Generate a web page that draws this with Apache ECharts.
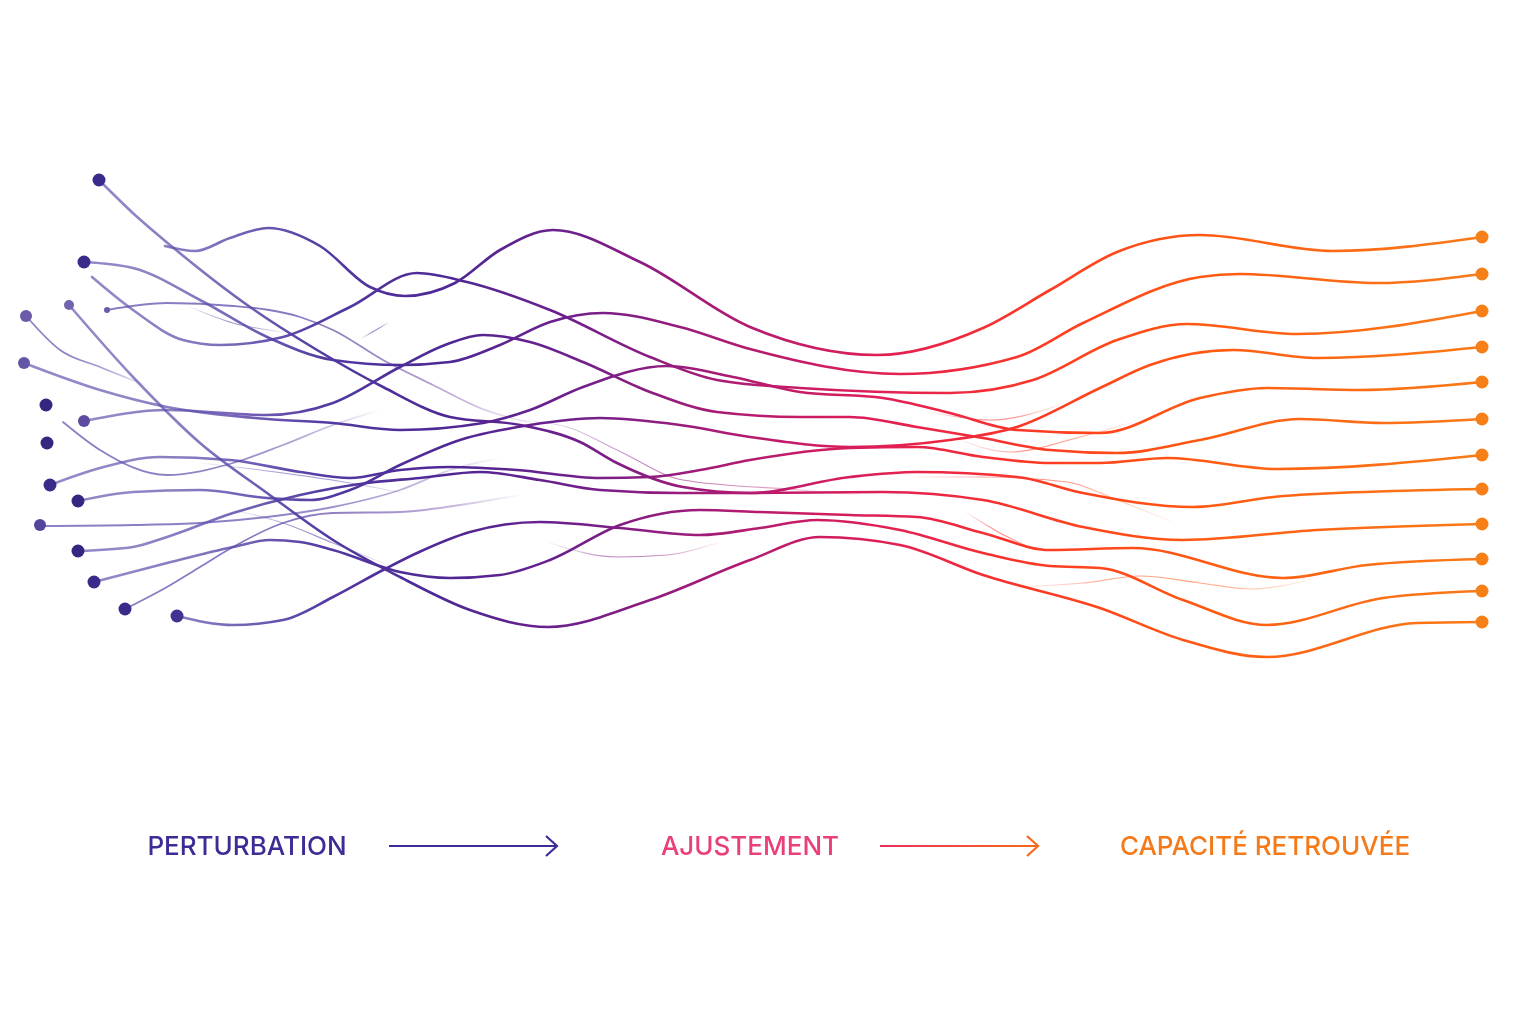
<!DOCTYPE html>
<html>
<head>
<meta charset="utf-8">
<script src="https://cdn.jsdelivr.net/npm/echarts@6/dist/echarts.min.js"></script>
<style>html,body{margin:0;padding:0;background:#fff}#c{width:1536px;height:1024px}</style>
</head>
<body>
<div id="c"></div>
<script>
// ---- data (x = progression, y = état) ----
const stageLabels = ['PERTURBATION', 'AJUSTEMENT', 'CAPACITÉ RETROUVÉE'];

const pathE1 = [[165,246],[195,251],[230,238],[268,228],[320,246],[370,287],[405,296],[455,283],[500,250],[553,230],[640,262],[750,327],[877,355],[983,328],[1050,290],[1117,252],[1200,235],[1333,251],[1482,237]];
const pathE2 = [[84,262],[133,268],[200,300],[267,337],[333,360],[400,365],[450,362],[500,345],[550,322],[603,313],[680,327],[750,349],[900,374],[1017,357],[1083,323],[1200,277],[1240,274],[1377,283],[1482,274]];
const pathE3 = [[92,277],[133,310],[183,340],[220,345],[283,337],[350,307],[417,273],[467,282],[550,310],[650,357],[717,380],[800,388],[950,393],[1033,380],[1117,340],[1187,324],[1297,334],[1482,311]];
const pathE4 = [[78,501],[133,492],[200,490],[267,498],[310,500],[350,490],[400,465],[460,440],[530,425],[600,418],[680,425],[750,437],[850,447],[950,440],[1017,427],[1100,388],[1150,365],[1233,350],[1317,358],[1482,347]];
const pathE5 = [[24,363],[100,390],[167,407],[267,419],[333,423],[400,430],[483,423],[530,410],[583,387],[667,366],[733,377],[800,392],[883,398],[950,413],[1017,430],[1100,433],[1200,398],[1267,388],[1360,390],[1482,382]];
const pathE6 = [[84,421],[167,410],[267,415],[333,403],[400,367],[445,345],[483,335],[530,342],[583,362],[650,392],[717,412],[800,417],[850,417],[917,427],[983,438],[1050,450],[1117,453],[1200,440],[1300,419],[1383,423],[1482,419]];
const pathE7 = [[50,485],[100,468],[160,457],[230,460],[300,472],[350,478],[400,470],[450,467],[517,470],[600,478],[650,477],[700,470],[750,460],[850,448],[917,447],[983,457],[1050,463],[1100,463],[1167,458],[1277,469],[1482,455]];
const pathE8 = [[99,180],[135,215],[170,245],[250,307],[317,350],[383,387],[450,417],[520,425],[580,442],[617,463],[683,487],[750,493],[850,477],[917,472],[1017,477],[1083,493],[1193,507],[1283,496],[1482,489]];
const pathE9 = [[78,551],[133,547],[167,537],[233,513],[300,495],[367,483],[420,478],[480,472],[540,480],[600,490],[680,493],[750,493],[883,492],[983,500],[1083,527],[1183,540],[1317,530],[1482,524]];
const pathE10 = [[94,582],[167,563],[233,547],[270,540],[300,542],[333,550],[400,572],[450,578],[500,575],[550,560],[620,525],[700,510],[760,512],[850,515],[917,517],[983,533],[1050,550],[1133,548],[1283,578],[1367,565],[1482,559]];
const pathE11 = [[177,616],[233,625],[283,620],[333,597],[383,570],[417,553],[470,532],[540,522],[620,528],[700,535],[760,528],[817,520],[900,530],[983,553],[1050,566],[1100,568],[1183,600],[1267,625],[1383,598],[1482,591]];
const pathE12 = [[69,305],[133,377],[200,443],[267,493],[333,540],[400,577],[470,610],[548,627],[650,600],[750,560],[820,537],[900,545],[983,575],[1100,608],[1183,640],[1267,657],[1417,623],[1482,622]];

const sidePaths = [
  [[26,316],[60,350],[100,367],[145,385]],
  [[107,310],[167,303],[233,306],[300,317],[333,330],[383,360],[433,385],[480,408],[540,425]],
  [[125,609],[167,587],[200,567],[233,547],[283,523],[333,513],[400,512],[460,505],[520,495]],
  [[40,526],[133,525],[200,523],[267,517],[333,507],[400,490],[450,470],[500,458]],
  [[63,422],[100,450],[167,475],[233,463],[283,445],[333,425],[380,410]]
];

const thinPaths = [
  [[190,307],[233,323],[283,332]],
  [[362,338],[388,323]],
  [[200,463],[283,473],[350,483],[403,493]],
  [[233,510],[283,523],[333,543],[383,563]],
  [[517,420],[567,427],[617,450],[683,480],[800,490],[860,495]],
  [[550,543],[617,557],[667,555],[717,543]],
  [[930,412],[990,420],[1060,405]],
  [[960,440],[1010,452],[1080,437],[1130,423]],
  [[917,477],[983,477],[1067,482],[1117,500],[1170,521]],
  [[967,513],[1000,533],[1040,552]],
  [[1017,587],[1083,583],[1140,576],[1200,583],[1250,589],[1317,578]]
];

const startDotX = [99, 84, 26, 69, 107, 24, 46, 84, 47, 50, 78, 40, 78, 94, 125, 177];
const startDotY = [180, 262, 316, 305, 310, 363, 405, 421, 443, 485, 501, 525, 551, 582, 609, 616];
const startDotSize = [13, 13, 12, 10, 6, 12, 13, 12, 13, 13, 13, 12, 13, 13, 13, 13];
const startDotTone = ['#3a2a8a','#3a2a8a','#6b5ba8','#7362ad','#6b5ba8','#6456a6','#35267f','#5d4ca2','#35267f','#3a2a8a','#35267f','#54449c','#35267f','#3a2a8a','#3a2a8a','#423391'];
const endDotY = [237, 274, 311, 347, 382, 419, 455, 489, 524, 559, 591, 622];
const endDotX = 1482;

// ---- colours ----
const stops = [
  [0, [104,90,178]], [200, [96,78,172]], [330, [80,54,160]], [450, [78,40,148]],
  [560, [106,31,141]], [700, [160,27,120]], [820, [207,27,98]], [930, [234,35,72]],
  [1050, [255,60,31]], [1200, [255,90,18]], [1536, [249,128,24]]
];
function colorAt(x, a) {
  let i = 0;
  while (i < stops.length - 2 && x > stops[i + 1][0]) i++;
  const [x0, c0] = stops[i], [x1, c1] = stops[i + 1];
  const t = Math.max(0, Math.min(1, (x - x0) / (x1 - x0)));
  const c = c0.map((v, k) => Math.round(v + (c1[k] - v) * t));
  return 'rgba(' + c.join(',') + ',' + a + ')';
}
function mainGradient() {
  const cs = [];
  const alphaAt = x => x < 160 ? 0.7 : (x < 330 ? 0.7 + (x - 160) / 170 * 0.3 : 1);
  for (let x = 0; x <= 1536; x += 64) cs.push({ offset: x / 1536, color: colorAt(x, alphaAt(x)) });
  return { type: 'linear', x: 0, y: 0, x2: 1536, y2: 0, global: true, colorStops: cs };
}
function fadeGradient(path, peak) {
  const x0 = path[0][0], x1 = path[path.length - 1][0];
  const cs = [];
  for (let k = 0; k <= 8; k++) {
    const t = k / 8, x = x0 + (x1 - x0) * t;
    cs.push({ offset: t, color: colorAt(x, Math.max(0.05, peak * Math.sin(Math.PI * t))) });
  }
  return { type: 'linear', x: x0, y: 0, x2: x1 + 1, y2: 0, global: true, colorStops: cs };
}
function sideGradient(path) {
  const x0 = path[0][0], x1 = path[path.length - 1][0];
  const cs = [];
  for (let k = 0; k <= 6; k++) {
    const t = k / 6, x = x0 + (x1 - x0) * t;
    cs.push({ offset: t, color: colorAt(x, 0.75 * (1 - Math.pow(t, 3))) });
  }
  return { type: 'linear', x: x0, y: 0, x2: x1 + 1, y2: 0, global: true, colorStops: cs };
}

// monotone-x cubic path through pixel points (rendering only)
function monotonePath(pts) {
  const n = pts.length;
  if (n < 2) return '';
  const sl = [];
  for (let i = 0; i < n - 1; i++) sl.push((pts[i + 1][1] - pts[i][1]) / (pts[i + 1][0] - pts[i][0]));
  const t = new Array(n);
  for (let i = 1; i < n - 1; i++) {
    const h0 = pts[i][0] - pts[i - 1][0], h1 = pts[i + 1][0] - pts[i][0];
    const s0 = sl[i - 1], s1 = sl[i];
    const p = (s0 * h1 + s1 * h0) / (h0 + h1);
    t[i] = (Math.sign(s0) + Math.sign(s1)) * Math.min(Math.abs(s0), Math.abs(s1), 0.5 * Math.abs(p)) || 0;
  }
  if (n === 2) { t[0] = sl[0]; t[1] = sl[0]; }
  else {
    t[0] = (3 * sl[0] - t[1]) / 2;
    t[n - 1] = (3 * sl[n - 2] - t[n - 2]) / 2;
  }
  let d = 'M' + pts[0][0] + ' ' + pts[0][1];
  for (let i = 0; i < n - 1; i++) {
    const dx = (pts[i + 1][0] - pts[i][0]) / 3;
    d += ' C' + (pts[i][0] + dx) + ' ' + (pts[i][1] + dx * t[i]) + ' ' +
      (pts[i + 1][0] - dx) + ' ' + (pts[i + 1][1] - dx * t[i + 1]) + ' ' +
      pts[i + 1][0] + ' ' + pts[i + 1][1];
  }
  return d;
}
function curveSeries(path, width, stroke, z) {
  return {
    type: 'custom', coordinateSystem: 'cartesian2d', silent: true, z: z,
    data: path,
    renderItem: function (params, api) {
      if (params.dataIndex !== 0) return null;
      const pts = path.map(p => api.coord(p));
      return {
        type: 'path',
        shape: { pathData: monotonePath(pts) },
        style: { fill: 'none', stroke: stroke, lineWidth: width, lineCap: 'round' }
      };
    }
  };
}

const series = [];
const mainPaths = [pathE1, pathE2, pathE3, pathE4, pathE5, pathE6, pathE7, pathE8, pathE9, pathE10, pathE11, pathE12];
const grad = mainGradient();
thinPaths.forEach(p => series.push(curveSeries(p, 1.2, fadeGradient(p, 0.55), 1)));
sidePaths.forEach(p => series.push(curveSeries(p, 1.8, sideGradient(p), 2)));
mainPaths.forEach(p => series.push(curveSeries(p, 2.6, grad, 3)));
series.push({
  type: 'scatter', silent: true, z: 5,
  data: startDotX.map((x, i) => ({ value: [x, startDotY[i]], symbolSize: startDotSize[i], itemStyle: { color: startDotTone[i], opacity: 1 } }))
});
series.push({
  type: 'scatter', silent: true, z: 5, symbolSize: 13,
  itemStyle: { color: '#f77f17', opacity: 1 },
  data: endDotY.map(y => [endDotX, y])
});

const labelFont = { fontFamily: 'Inter', fontSize: 26, fontWeight: 500, align: 'center', verticalAlign: 'middle' };
const chart = echarts.init(document.getElementById('c'), null, { renderer: 'canvas' });
chart.setOption({
  backgroundColor: '#ffffff',
  animation: false,
  grid: { left: 0, right: 0, top: 0, bottom: 0 },
  xAxis: { type: 'value', min: 0, max: 1536, show: false },
  yAxis: { type: 'value', min: 0, max: 1024, inverse: true, show: false },
  series: series,
  graphic: [
    { type: 'text', x: 247, y: 847, style: Object.assign({ text: stageLabels[0], fill: '#3f2b96' }, labelFont) },
    { type: 'line', shape: { x1: 389, y1: 846, x2: 556, y2: 846 }, style: { stroke: '#3f2b96', lineWidth: 2.2 } },
    { type: 'polyline', shape: { points: [[546, 836], [557, 846], [546, 856]] }, style: { stroke: '#3f2b96', lineWidth: 2.2, fill: null } },
    { type: 'text', x: 750, y: 847, style: Object.assign({ text: stageLabels[1], fill: '#ea3f78' }, labelFont) },
    { type: 'line', shape: { x1: 880, y1: 846, x2: 1037, y2: 846 }, style: { lineWidth: 2.2, stroke: { type: 'linear', x: 880, y: 0, x2: 1038, y2: 0, global: true, colorStops: [{ offset: 0, color: '#ea2f5a' }, { offset: 1, color: '#f56a1c' }] } } },
    { type: 'polyline', shape: { points: [[1027, 836], [1038, 846], [1027, 856]] }, style: { stroke: '#f56a1c', lineWidth: 2.2, fill: null } },
    { type: 'text', x: 1265, y: 847, style: Object.assign({ text: stageLabels[2], fill: '#f57a1a' }, labelFont) }
  ]
});
</script>
</body>
</html>
